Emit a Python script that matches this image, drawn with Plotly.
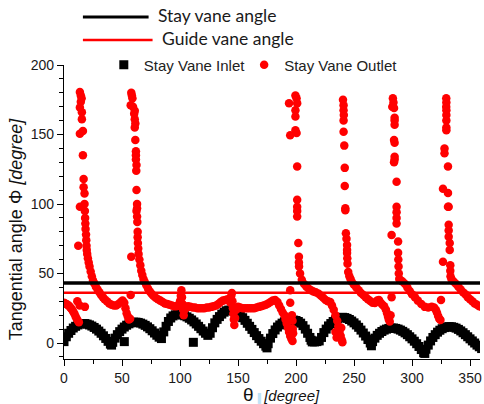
import plotly.graph_objects as go

# ---------------- data ----------------
theta_inlet = [0, 2, 4, 6, 8, 10, 12, 14, 16, 18, 20, 22, 24, 26, 28, 30, 32, 34, 36, 38, 40, 41,
               42, 44, 46, 48, 50, 52, 54, 56, 58, 60, 62, 64, 66, 68, 70, 72, 74, 76, 78, 80, 82, 84,
               86, 88, 90, 92, 94, 96, 98, 100, 102, 104, 106, 108, 110, 112, 114, 116, 118, 120, 122, 124,
               126, 128, 130, 132, 134, 136, 138, 140, 142, 144, 146, 148, 150, 152, 154, 156, 158, 160,
               162, 164, 166, 168, 170, 172, 174, 175,
               176, 178, 180, 182, 184, 186, 188, 190, 192, 194, 196, 198, 200, 202, 204, 206, 208, 210, 212, 213,
               214, 216, 218, 220, 222, 224, 226, 228, 230, 232, 234, 236, 238, 240, 242, 244, 246, 248, 250,
               252, 254, 256, 258, 260, 262, 264, 265,
               266, 268, 270, 272, 274, 276, 278, 280, 282, 284, 286, 288, 290, 292, 294, 296, 298, 300, 302,
               304, 306, 308, 310, 311,
               312, 314, 316, 318, 320, 322, 324, 326, 328, 330, 332, 334, 336, 338, 340, 342, 344, 346, 348,
               350, 352, 354, 356, 358, 360,
               52, 111.5]
phi_inlet = [1, 4.5, 7, 9, 10.8, 12, 13, 13.7, 14, 14, 13.6, 13, 12.2, 11.2, 10, 8.6, 7, 5.2, 3.3, 1.2, -0.8, -1.5,
             0.5, 3.5, 6, 8.2, 10, 11.5, 12.8, 13.8, 14.5, 15, 15, 14.8, 14.3, 13.6, 12.7, 11.6, 10.3, 8.8, 7.2, 5.6, 4.2, 3.2,
             8, 12, 15.5, 18, 19.5, 20.3, 20.6, 20.5, 20.2, 19.6, 18.8, 17.8, 16.6, 15.2, 13.7, 12, 10.3, 8.6, 7, 5.5,
             7, 11, 14.5, 17, 19, 20.8, 22.2, 23.2, 23.7, 23.6, 23.1, 22.3, 21.2, 19.8, 18.2, 16.3, 14.2, 12,
             9.8, 7.5, 5.3, 3.2, 1.3, -0.5, -2.3, -3.5,
             -0.5, 3.5, 6.8, 9.4, 11.5, 13, 14.3, 15.3, 16, 16.4, 16.6, 16.5, 16.2, 15.5, 14.3, 12.5, 10, 7, 4, 2,
             0.8, 0.8, 1, 1.5, 4, 7.5, 10, 12.3, 14, 15.5, 16.7, 17.7, 18.3, 18.5, 18.3, 17.7, 16.9, 15.8, 14.5,
             13, 11.3, 9.3, 7.2, 5, 2.5, 0, -2,
             1, 3.5, 5.5, 7, 8.3, 9.3, 10, 10.5, 10.8, 10.8, 10.5, 10, 9.3, 8.4, 7.3, 6, 4.5, 3, 1.3,
             -0.5, -2.5, -4.7, -7, -7.5,
             -4.5, -1.5, 1.5, 4, 6, 7.8, 9.2, 10.3, 11.1, 11.6, 11.8, 11.7, 11.3, 10.7, 9.8, 8.7, 7.4, 6, 4.5,
             3, 1.5, 0, -1.5, -2.7, -4,
             1, 0.5]

outlet_points = [
    # base before first spike
    (0, 29), (1, 28.5), (2, 28), (3, 27.5), (4, 27), (5, 26), (6, 25), (7, 24), (8, 22.5), (9, 21),
    (10, 19), (11, 17.5), (12, 16), (12.8, 15), (11.5, 30), (13.5, 27), (18, 26), (12.3, 70),
    # spike 1
    (13.7, 180.5), (14.5, 178), (14.5, 173.5), (15.2, 176), (13.7, 169.5), (15.4, 166), (15.4, 161),
    (13.7, 150.5), (16.3, 152.5), (16.3, 135), (16.9, 118), (16.9, 112), (17.7, 107.5), (13.7, 98),
    (17.7, 100), (18, 95), (18.2, 90), (18.4, 86), (18.6, 82), (19, 78), (19.2, 74), (19.4, 70),
    (19.6, 67), (20, 64), (20.6, 61), (21.3, 58), (22, 55), (23, 51.5), (24, 48), (25, 45), (26, 43),
    (27.5, 40.5), (29, 38.5), (30.5, 36.5), (32, 34.5), (33.5, 33), (35, 31.5), (37, 30), (39, 28.5),
    (41, 27.5), (43, 27), (45, 27), (47, 28), (49, 29.5), (50.5, 30.5), (52, 29), (53, 25), (54, 21.5),
    (55, 19), (56, 17), (57, 17.5), (57.5, 34.5), (58, 62),
    # spike 2
    (58.5, 178), (58, 180), (59, 176), (57.5, 171), (59.5, 170), (61, 167), (60.5, 165), (61, 161),
    (61.5, 158), (61, 155), (61.5, 146), (62, 138), (62, 135), (62, 132), (62.5, 128), (62.3, 124),
    (62.5, 110), (63, 100), (63, 97), (62.5, 95), (63, 91), (63.2, 87), (63.5, 80), (63.5, 76),
    (63.7, 72), (64, 68), (64.3, 64), (65, 60), (65.8, 56), (66.6, 52), (67.5, 49), (68.5, 46),
    (69.5, 44), (71, 41.5), (72.5, 39), (74, 37), (75.5, 35.5), (77, 34), (79, 32.5), (81, 31.5),
    (83, 30.5), (85, 29.5), (87, 28.5), (89, 28), (91, 27.5), (93, 27), (95, 26.5), (97, 26.5),
    (99, 27.5), (100, 30), (100.7, 34), (101.2, 38), (101.7, 33), (102.2, 28), (102.7, 24), (103.2, 20),
    (104, 24), (105.5, 26), (107, 26.5), (109, 26), (111, 25.5), (113, 25.5), (115, 25), (117, 25),
    (119, 25), (121, 25), (123, 25.5), (125, 25.5), (127, 26), (129, 26.5), (131, 27), (133, 28),
    (135, 29.5), (137, 30.5), (139, 31), (141, 31.5), (142.5, 31), (143.5, 29), (144.2, 34), (144.7, 36),
    (145.2, 30), (145.6, 25), (146, 21), (146.4, 17), (146.8, 13), (147.5, 18), (148.5, 24), (150, 26),
    (152, 25.5), (154, 25), (156, 25), (158, 25), (160, 25), (162, 25), (164, 25), (166, 25.5),
    (168, 26), (170, 26.5), (172, 27), (174, 27.5), (176, 28.5), (178, 29.5), (180, 30.5), (182, 31),
    (184, 29.5), (185.5, 27), (187, 24.5), (188.5, 22), (190, 20), (191, 17), (192, 14), (193, 11),
    (194, 8), (195, 5), (196, 3), (197, 1.5), (195, 38), (195, 29), (196.5, 20), (197, 16), (197.2, 10),
    (197.5, 7),
    # spike 3
    (199.5, 178), (200.5, 176), (194, 172.5), (201, 172.5), (199.5, 167.5), (199.5, 163), (199.5, 153),
    (195, 149.5), (200.5, 151), (201, 127), (201, 103), (201, 98), (201, 95), (201, 91), (202, 72),
    (202.5, 62), (202.5, 58), (202.6, 55), (203.5, 50), (205, 45.5), (207, 42.5), (209, 40.5), (211, 39),
    (213, 38), (215, 37), (217, 36.5), (219.5, 35.5), (221.5, 34), (223.5, 32.5), (225.5, 31),
    (227.5, 30), (229.5, 29.5), (231, 27), (232.5, 24), (234, 20), (235.5, 16), (236.5, 12), (237.5, 8),
    (238.5, 5), (239.5, 2), (234, 8), (235, 4), (240, 0.5), (239, 11),
    # spike 4
    (240.5, 175), (241, 171), (241, 167.5), (241.2, 164), (241, 160), (241, 152), (241.6, 142),
    (242, 126), (242, 113), (242.5, 97), (242.5, 95.5), (243, 79), (243.5, 75), (244, 70.5), (244, 67),
    (244, 64.7), (244.2, 61), (244.4, 57), (245, 51), (246, 48), (247, 46), (248, 44), (250, 42),
    (252, 40), (254, 38), (256, 36), (258, 34.5), (260, 33), (262, 31.5), (264, 30.3), (266, 29),
    (268, 28.8), (270, 30.5), (271.5, 31), (273, 29), (274.5, 27.5), (276, 26.5), (277.5, 24),
    (278.5, 21.5), (279.3, 19), (280, 17), (280.8, 15.5), (281.5, 20), (282.4, 33),
    # spike 5
    (283.5, 176), (284, 173), (283, 170), (284.5, 169), (285, 162), (285, 160), (285, 157), (284.5, 146),
    (285, 144), (285, 134), (285, 132), (284.5, 130), (286.7, 116), (286.7, 98), (286.7, 94),
    (286.7, 90), (286.7, 86), (282.4, 77.7), (288, 73), (288, 65), (288.2, 60), (288.4, 55), (288.6, 50),
    (289, 46), (290.5, 45), (292, 44), (294, 42.5), (296, 40), (298, 37.5), (300, 35), (302.5, 33),
    (305, 30.5), (308, 28), (311, 26), (314, 25.5), (317, 26), (319, 25.5), (320.5, 24), (321.5, 22),
    (322.5, 19.5), (323.5, 17.5), (324.5, 16.5), (325, 31),
    # spike 6
    (329.5, 176), (329.6, 173), (329.5, 170), (329.6, 167.5), (329.6, 164), (329.6, 160), (329.6, 155),
    (329.6, 153), (328, 140), (328, 136.5), (331, 127), (326.7, 111), (331, 108), (331.6, 98), (331, 98),
    (331.6, 85), (331.6, 81), (331.6, 76.5), (332.5, 72), (332.5, 67), (326.7, 58.5), (333, 56),
    (333, 52), (333.2, 48), (334, 46), (336, 44), (338, 42.5), (340, 40.5), (342, 38.5), (344, 36.5),
    (346, 35), (348, 33), (350, 31.5), (352, 30), (354, 28.5), (356, 27.5), (358, 26.5), (360, 26),
]
theta_outlet = [p[0] for p in outlet_points]
phi_outlet = [p[1] for p in outlet_points]

stay_vane_angle = 43.2
guide_vane_angle = 36.2
line_theta = [0, 360]

series_names = ["Stay Vane Inlet", "Stay Vane Outlet"]
line_names = ["Stay vane angle", "Guide vane angle"]

x_range = [0, 358.6]
y_range = [-11.5, 200]

# ---------------- layout helpers (pixel -> paper) ----------------
W, H = 484, 404
ML, MR, MT, MB = 64, 2, 65, 45
PW, PH = W - ML - MR, H - MT - MB


def px(x):
    return (x - ML) / PW


def py(y):
    return (H - MB - y) / PH


fig = go.Figure()
fig.add_trace(go.Scatter(
    x=theta_inlet, y=phi_inlet, mode="markers", name=series_names[0],
    marker=dict(symbol="square", size=9, color="#000000", line=dict(width=0)),
    legend="legend"))
fig.add_trace(go.Scatter(
    x=theta_outlet, y=phi_outlet, mode="markers", name=series_names[1],
    marker=dict(symbol="circle", size=8.5, color="#ff0000", line=dict(width=0)),
    legend="legend2"))
fig.add_trace(go.Scatter(
    x=line_theta, y=[guide_vane_angle] * 2, mode="lines", name=line_names[1],
    line=dict(color="#ff0000", width=2.6), showlegend=False))
fig.add_trace(go.Scatter(
    x=line_theta, y=[stay_vane_angle] * 2, mode="lines", name=line_names[0],
    line=dict(color="#000000", width=3.5), showlegend=False))

axis_font = dict(family="Liberation Sans, Arial, sans-serif", size=14, color="#1a1a1a")
common = dict(showline=True, linecolor="#000", linewidth=1.3, ticks="outside", ticklen=6,
              tickwidth=1.3, tickcolor="#000", showgrid=False, zeroline=False,
              tickfont=axis_font, mirror=False)

fig.update_xaxes(range=x_range, tick0=0, dtick=50,
                 minor=dict(dtick=25, ticks="outside", ticklen=3.5, tickwidth=1.3, tickcolor="#000"),
                 **common)
fig.update_yaxes(range=y_range, tick0=0, dtick=50,
                 minor=dict(dtick=10, tick0=0, ticks="outside", ticklen=3.5, tickwidth=1.3, tickcolor="#000"),
                 **common)

# manual legend for reference lines
shapes = [
    dict(type="line", xref="paper", yref="paper", x0=px(83), x1=px(149), y0=py(17), y1=py(17),
         line=dict(color="#000000", width=3.2)),
    dict(type="line", xref="paper", yref="paper", x0=px(83), x1=px(153), y0=py(40), y1=py(40),
         line=dict(color="#ff0000", width=2.5)),
]
legend_font = dict(family="Lato, Carlito, sans-serif", size=17.5, color="#1a1a1a")
annotations = [
    dict(text=line_names[0], xref="paper", yref="paper", x=px(156), y=py(15),
         xanchor="left", yanchor="middle", showarrow=False, font=legend_font),
    dict(text=line_names[1], xref="paper", yref="paper", x=px(160), y=py(38),
         xanchor="left", yanchor="middle", showarrow=False, font=legend_font),
    dict(text="Tangential angle Φ <i>[degree]</i>", xref="paper", yref="paper",
         x=px(16), y=py(229), xanchor="center", yanchor="middle", textangle=-90,
         showarrow=False, font=dict(family="Liberation Sans, Arial, sans-serif", size=18, color="#111")),
    dict(text='<span style="font-size:19px">θ</span> <span style="color:#bfe3f7;font-size:9px">▌</span><i>[degree]</i>',
         xref="paper", yref="paper", x=px(283), y=py(394), xanchor="center", yanchor="middle",
         showarrow=False, font=dict(family="Liberation Sans, Arial, sans-serif", size=15, color="#111")),
]

legend_text_font = dict(family="Liberation Sans, Arial, sans-serif", size=15, color="#222")
fig.update_layout(
    width=W, height=H, autosize=False,
    margin=dict(l=ML, r=MR, t=MT, b=MB, pad=0),
    paper_bgcolor="white", plot_bgcolor="white",
    shapes=shapes, annotations=annotations,
    legend=dict(orientation="h", x=px(104), xanchor="left", y=1.0, yanchor="middle",
                bgcolor="rgba(0,0,0,0)", borderwidth=0, font=legend_text_font),
    legend2=dict(orientation="h", x=px(245), xanchor="left", y=1.0, yanchor="middle",
                 bgcolor="rgba(0,0,0,0)", borderwidth=0, font=legend_text_font),
)

fig.write_html("out.html")
